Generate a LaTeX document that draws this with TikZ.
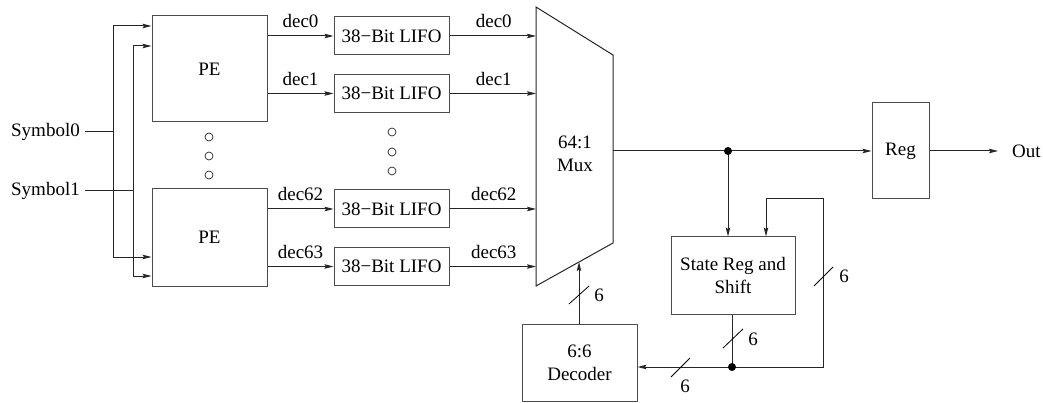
\documentclass[tikz,border=0pt]{standalone}
\usepackage{fontspec}
\setmainfont{Liberation Serif}
\usetikzlibrary{arrows.meta,calc}
\begin{document}
\begin{tikzpicture}[x=1pt,y=-1pt,
  font=\fontsize{19}{23}\selectfont,
  wire/.style={draw=black!85,line width=1pt},
  arr/.style={wire,-{Stealth[length=9pt,width=4.5pt,inset=1.5pt]}},
  blk/.style={draw=black!70,line width=1pt,inner sep=0pt,align=center},
  ell/.style={draw=black!85,line width=0.7pt,fill=white},
  jdot/.style={fill=black,draw=none},
  bus/.style={draw=black,line width=0.8pt},
  lbl/.style={inner sep=0pt,anchor=base}
]
\useasboundingbox (0,0) rectangle (1043,403);

% processing elements
\node[blk,minimum width=115pt,minimum height=106pt] (pe1) at (209.5,69) {PE};
\node[blk,minimum width=115pt,minimum height=97pt]  (pe2) at (209.5,237.5) {PE};

% LIFO stack buffers
\foreach \n/\y in {0/36,1/93.5,62/209,63/266.5}
  \node[blk,minimum width=115pt,minimum height=38pt] (lifo\n) at (391.5,\y) {38−Bit LIFO};

% multiplexer outline
\coordinate (m1) at (536,7);
\coordinate (m2) at (613,55);
\coordinate (m3) at (613,243);
\coordinate (m4) at (536,286);
\draw[draw=black!85,line width=1pt] (m1) -- (m2) -- (m3) -- (m4) -- cycle;
\node[align=center,inner sep=0pt] (mux) at (575,154) {64:1\\Mux};
\coordinate (muxout) at (613,151);
\coordinate (muxsel) at (579,262);

% remaining blocks
\node[blk,minimum width=57pt,minimum height=96pt] (reg) at (900.5,151) {Reg};
\node[blk,minimum width=124pt,minimum height=77pt] (state) at (733,275.5) {State Reg and\\Shift};
\node[blk,minimum width=115pt,minimum height=77pt] (dec) at (579.5,362.5) {6:6\\Decoder};

% inputs
\node[anchor=east,inner sep=2pt] (sym0) at (82,132) {Symbol0};
\node[anchor=east,inner sep=2pt] (sym1) at (82,190.5) {Symbol1};
\coordinate (s0) at (113,132);
\coordinate (s1) at (133,190.5);
\draw[wire] (sym0.east) ++(3,0) -- (s0);
\draw[wire] (sym1.east) ++(3,0) -- (s1);
\draw[arr] (s0) |- (pe1.west |- 0,26);
\draw[arr] (s0) |- (pe2.west |- 0,257);
\draw[arr] (s1) |- (pe1.west |- 0,46);
\draw[arr] (s1) |- (pe2.west |- 0,276);

% decision outputs through the LIFOs into the multiplexer
\foreach \n/\pe in {0/pe1,1/pe1,62/pe2,63/pe2}{
  \draw[arr] (\pe.east |- lifo\n.west) -- (lifo\n.west);
  \draw[arr] (lifo\n.east) -- (m1 |- lifo\n.east);
  \node[lbl] at ($(\pe.east |- lifo\n.west)!0.5!(lifo\n.west)+(0,-8)$) {dec\n};
  \node[lbl] at ($(lifo\n.east)!0.5!(m1 |- lifo\n.east)+(1,-8)$) {dec\n};
}

% ellipsis marks
\foreach \y in {137,156,175} \draw[ell] (209,\y) circle (4pt);
\foreach \y in {132,152,171} \draw[ell] (392,\y) circle (4pt);

% multiplexer output
\coordinate (j1) at (728,151);
\draw[arr] (muxout) -- (reg.west);
\node[anchor=west,inner sep=0pt] (out) at (1012,151) {Out};
\draw[arr,shorten >=14pt] (reg.east) -- (out.west);
\draw[arr] (j1) -- (j1 |- state.north);
\fill[jdot] (j1) circle (4pt);

% state feedback loop
\coordinate (j2) at (732,367);
\coordinate (fb1) at (823,367);
\coordinate (fb2) at (823,199);
\coordinate (fb3) at (766,199);
\draw[wire] (state.south -| j2) -- (j2);
\draw[arr] (j2) -- (fb1) -- (fb2) -- (fb3) -- (fb3 |- state.north);
\draw[arr] (j2) -- (dec.east |- j2);
\fill[jdot] (j2) circle (4pt);
\draw[arr] (dec.north -| muxsel) -- (muxsel);

% bus width marks
\draw[bus] (569,304) -- (589,286);
\node[lbl] at (599,301) {6};
\draw[bus] (723,348) -- (743,329);
\node[lbl] at (753,345) {6};
\draw[bus] (671,377) -- (690,358);
\node[lbl] at (685,392) {6};
\draw[bus] (814,286) -- (833,267);
\node[lbl] at (844,282) {6};
\end{tikzpicture}
\end{document}
